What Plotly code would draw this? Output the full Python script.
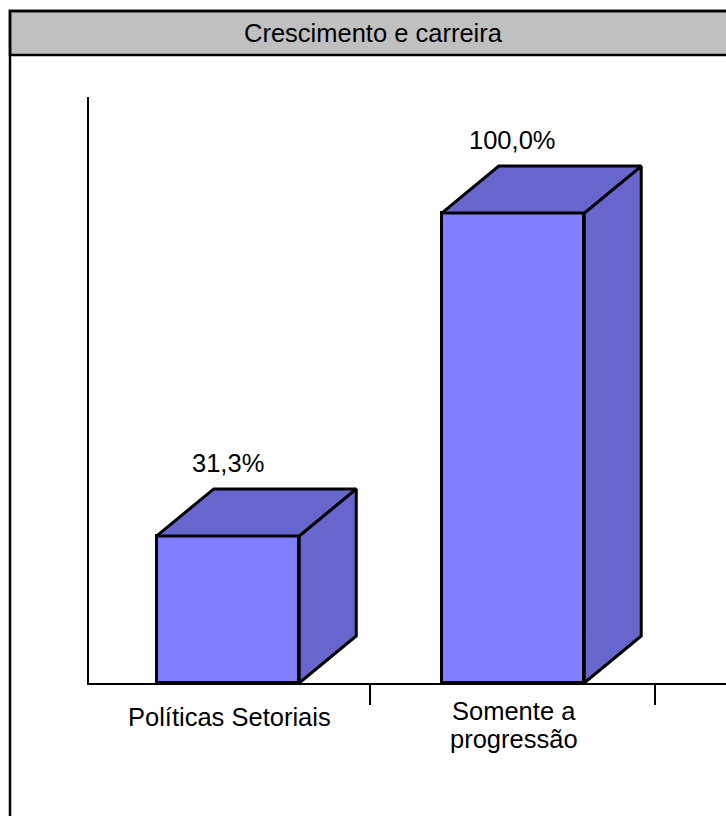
import plotly.graph_objects as go

# ---- data -------------------------------------------------------------
title_text = "Crescimento e carreira"
category_lines = [["Políticas Setoriais"], ["Somente a", "progressão"]]
values = [31.3, 100.0]
value_labels = ["31,3%", "100,0%"]

# ---- geometry / style -------------------------------------------------
W, H = 726, 816
PL, PR, PT, PB = 89, 726, 97, 683          # plot area in pixels
Y_MAX = 124.7
X_RANGE = [-0.4877, 1.7474]
BAR_W = 0.5        # front face width (category units)
DEPTH_X = 0.2      # 3-D depth offset, x (category units)
DEPTH_Y = 10       # 3-D depth offset, y (value units)
FRONT = "#8080FF"
SHADE = "#6666CC"
FONT = "Liberation Sans, Arial, sans-serif"
FS = 25.5
EDGE = 3


def px_x(p):
    return (p - PL) / (PR - PL)


def px_y(p):
    return (PB - p) / (PB - PT)


xs = list(range(len(values)))
fig = go.Figure()

# front faces
fig.add_trace(go.Bar(
    x=xs, y=values, width=BAR_W,
    marker=dict(color=FRONT, line=dict(color="black", width=EDGE)),
    hoverinfo="skip", showlegend=False,
))

# side and top faces
for x, v in zip(xs, values):
    x0, x1 = x - BAR_W / 2, x + BAR_W / 2
    side_x = [x1, x1 + DEPTH_X, x1 + DEPTH_X, x1, x1]
    side_y = [0, DEPTH_Y, v + DEPTH_Y, v, 0]
    top_x = [x0, x0 + DEPTH_X, x1 + DEPTH_X, x1, x0]
    top_y = [v, v + DEPTH_Y, v + DEPTH_Y, v, v]
    for px, py in ((side_x, side_y), (top_x, top_y)):
        fig.add_trace(go.Scatter(
            x=px, y=py, mode="lines", fill="toself", fillcolor=SHADE,
            line=dict(color="black", width=EDGE),
            hoverinfo="skip", showlegend=False,
        ))

annotations = []
# value labels above each box
for x, v, lab in zip(xs, values, value_labels):
    annotations.append(dict(
        x=x, y=v + DEPTH_Y, xref="x", yref="y", text=lab, showarrow=False,
        yanchor="bottom", yshift=10, font=dict(family=FONT, size=FS, color="black"),
    ))

# category labels under the axis
for x, lines in zip(xs, category_lines):
    first = 34 - 6 * (len(lines) - 1)
    for k, line in enumerate(lines):
        annotations.append(dict(
            x=x, y=0, xref="x", yref="paper", text=line, showarrow=False,
            yanchor="middle", yshift=-(first + 28 * k), xshift=1.5,
            font=dict(family=FONT, size=FS, color="black"),
        ))

# title in the header strip
annotations.append(dict(
    x=px_x(373), y=px_y(33), xref="paper", yref="paper", text=title_text,
    showarrow=False, xanchor="center", yanchor="middle",
    font=dict(family=FONT, size=FS, color="black"),
))

shapes = [
    # outer frame
    dict(type="rect", xref="paper", yref="paper",
         x0=px_x(10), x1=px_x(780), y0=px_y(860), y1=px_y(11),
         line=dict(color="black", width=2.5), fillcolor="rgba(0,0,0,0)", layer="above"),
    # header strip
    dict(type="rect", xref="paper", yref="paper",
         x0=px_x(10), x1=px_x(780), y0=px_y(55), y1=px_y(11),
         line=dict(color="black", width=2.5), fillcolor="#C0C0C0", layer="below"),
]

fig.update_layout(
    width=W, height=H,
    margin=dict(l=PL, r=W - PR, t=PT, b=H - PB, pad=0),
    paper_bgcolor="white", plot_bgcolor="white",
    showlegend=False, bargap=0,
    annotations=annotations, shapes=shapes,
    xaxis=dict(
        range=X_RANGE, showgrid=False, zeroline=False,
        showline=True, linecolor="black", linewidth=2,
        tickmode="array", tickvals=[0.5, 1.5], ticks="outside",
        ticklen=20, tickwidth=2, tickcolor="black", showticklabels=False,
        fixedrange=True,
    ),
    yaxis=dict(
        range=[0, Y_MAX], showgrid=False, zeroline=False,
        showline=True, linecolor="black", linewidth=2,
        ticks="", showticklabels=False, fixedrange=True,
    ),
)

fig.write_html("out.html")
